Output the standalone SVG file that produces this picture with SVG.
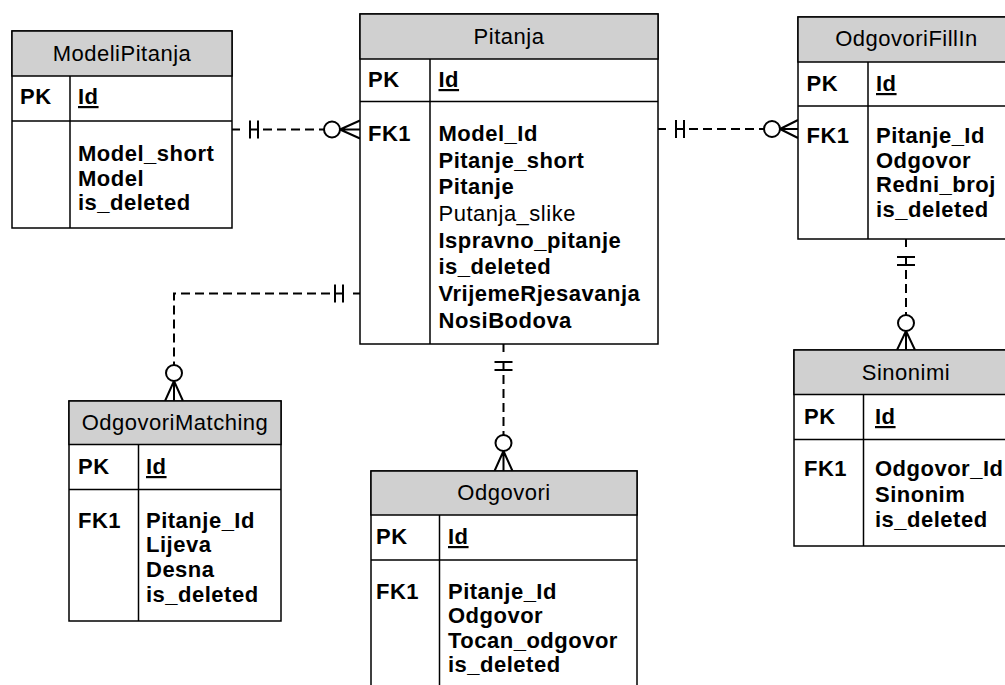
<svg xmlns="http://www.w3.org/2000/svg" width="1005" height="685" viewBox="0 0 1005 685">
<style>
  .box { fill: #ffffff; stroke: #000; stroke-width: 1.5; }
  .hdr { fill: #d0d0d0; stroke: #000; stroke-width: 1.5; }
  .ln { stroke: #000; stroke-width: 1.5; fill: none; }
  text { font-family: "Liberation Sans", Arial, sans-serif; font-size: 22px; letter-spacing: 0.5px; fill: #000; }
  .t { text-anchor: middle; font-weight: normal; }
  .b { font-weight: bold; }
  .u { font-weight: bold; text-decoration: underline; }
  .r { font-weight: normal; }
  .dash { stroke: #000; stroke-width: 2; fill: none; stroke-dasharray: 9 5; }
  .sol { stroke: #000; stroke-width: 2; fill: none; }
  .circ { stroke: #000; stroke-width: 2; fill: #fff; }
</style>
<rect width="1005" height="685" fill="#fff"/>

<g id="connectors">
  <g id="c-modeli-pitanja">
    <path class="sol" d="M232 129.5 H240 M250 120.5 V138.5 M258 120.5 V138.5 M250 129.5 H258"/>
    <path class="dash" d="M263 129.5 H324"/>
    <circle class="circ" cx="332" cy="129.5" r="8"/>
    <path class="sol" d="M340 129.5 L360 120.5 M340 129.5 H360 M340 129.5 L360 138.5"/>
  </g>
  <g id="c-pitanja-fillin">
    <path class="sol" d="M658 129 H666 M676 120 V138 M684 120 V138 M676 129 H684"/>
    <path class="dash" d="M689 129 H764"/>
    <circle class="circ" cx="772" cy="129" r="8"/>
    <path class="sol" d="M780 129 L798 120 M780 129 H798 M780 129 L798 138"/>
  </g>
  <g id="c-pitanja-matching">
    <path class="sol" d="M361 293.5 H353 M343 284.5 V302.5 M335 284.5 V302.5 M343 293.5 H335"/>
    <path class="dash" d="M330 293.5 H174 V365"/>
    <circle class="circ" cx="174" cy="373" r="8"/>
    <path class="sol" d="M174 381 L165 401 M174 381 V401 M174 381 L183 401"/>
  </g>
  <g id="c-pitanja-odgovori">
    <path class="sol" d="M503.5 344 V352 M494.5 362 H512.5 M494.5 370 H512.5 M503.5 362 V370"/>
    <path class="dash" d="M503.5 375 V435"/>
    <circle class="circ" cx="503.5" cy="443" r="8"/>
    <path class="sol" d="M503.5 451 L494.5 471 M503.5 451 V471 M503.5 451 L512.5 471"/>
  </g>
  <g id="c-fillin-sinonimi">
    <path class="sol" d="M906 239 V247 M897 257 H915 M897 265 H915 M906 257 V265"/>
    <path class="dash" d="M906 270 V315"/>
    <circle class="circ" cx="906" cy="323" r="8"/>
    <path class="sol" d="M906 331 L897 350 M906 331 V350 M906 331 L915 350"/>
  </g>
</g>

<g id="ModeliPitanja">
  <rect class="box" x="12" y="31" width="220" height="197"/>
  <rect class="hdr" x="12" y="31" width="220" height="45"/>
  <line class="ln" x1="12" y1="121" x2="232" y2="121"/>
  <line class="ln" x1="70" y1="76" x2="70" y2="228"/>
  <text class="t" x="122" y="61">ModeliPitanja</text>
  <text class="b" x="20" y="104">PK</text>
  <text class="u" x="78" y="104">Id</text>
  <text class="b" x="78" y="161">Model_short</text>
  <text class="b" x="78" y="185.5">Model</text>
  <text class="b" x="78" y="210">is_deleted</text>
</g>

<g id="Pitanja">
  <rect class="box" x="360" y="14" width="298" height="330"/>
  <rect class="hdr" x="360" y="14" width="298" height="45"/>
  <line class="ln" x1="360" y1="101.5" x2="658" y2="101.5"/>
  <line class="ln" x1="430" y1="59" x2="430" y2="344"/>
  <text class="t" x="509" y="44">Pitanja</text>
  <text class="b" x="368" y="87">PK</text>
  <text class="u" x="438.5" y="87">Id</text>
  <text class="b" x="368" y="141">FK1</text>
  <text class="b" x="438.5" y="141">Model_Id</text>
  <text class="b" x="438.5" y="167.5">Pitanje_short</text>
  <text class="b" x="438.5" y="194">Pitanje</text>
  <text class="r" x="438.5" y="221">Putanja_slike</text>
  <text class="b" x="438.5" y="247.5">Ispravno_pitanje</text>
  <text class="b" x="438.5" y="274">is_deleted</text>
  <text class="b" x="438.5" y="301">VrijemeRjesavanja</text>
  <text class="b" x="438.5" y="327.5">NosiBodova</text>
</g>

<g id="OdgovoriFillIn">
  <rect class="box" x="798" y="17" width="217" height="222"/>
  <rect class="hdr" x="798" y="17" width="217" height="45"/>
  <line class="ln" x1="798" y1="106" x2="1015" y2="106"/>
  <line class="ln" x1="868" y1="62" x2="868" y2="239"/>
  <text class="t" x="906.5" y="46">OdgovoriFillIn</text>
  <text class="b" x="806.5" y="91">PK</text>
  <text class="u" x="876" y="91">Id</text>
  <text class="b" x="806.5" y="143">FK1</text>
  <text class="b" x="876" y="143">Pitanje_Id</text>
  <text class="b" x="876" y="167.5">Odgovor</text>
  <text class="b" x="876" y="192">Redni_broj</text>
  <text class="b" x="876" y="216.5">is_deleted</text>
</g>

<g id="OdgovoriMatching">
  <rect class="box" x="69" y="401" width="212" height="220"/>
  <rect class="hdr" x="69" y="401" width="212" height="43.5"/>
  <line class="ln" x1="69" y1="489.5" x2="281" y2="489.5"/>
  <line class="ln" x1="138.5" y1="444.5" x2="138.5" y2="621"/>
  <text class="t" x="175" y="430">OdgovoriMatching</text>
  <text class="b" x="78" y="474">PK</text>
  <text class="u" x="146" y="474">Id</text>
  <text class="b" x="78" y="527.5">FK1</text>
  <text class="b" x="146" y="527.5">Pitanje_Id</text>
  <text class="b" x="146" y="552">Lijeva</text>
  <text class="b" x="146" y="577">Desna</text>
  <text class="b" x="146" y="601.5">is_deleted</text>
</g>

<g id="Odgovori">
  <rect class="box" x="371" y="471" width="266" height="240"/>
  <rect class="hdr" x="371" y="471" width="266" height="44"/>
  <line class="ln" x1="371" y1="560" x2="637" y2="560"/>
  <line class="ln" x1="439.5" y1="515" x2="439.5" y2="711"/>
  <text class="t" x="504" y="500">Odgovori</text>
  <text class="b" x="376" y="544">PK</text>
  <text class="u" x="448" y="544">Id</text>
  <text class="b" x="376" y="598.5">FK1</text>
  <text class="b" x="448" y="598.5">Pitanje_Id</text>
  <text class="b" x="448" y="623">Odgovor</text>
  <text class="b" x="448" y="647.5">Tocan_odgovor</text>
  <text class="b" x="448" y="672">is_deleted</text>
</g>

<g id="Sinonimi">
  <rect class="box" x="794" y="350" width="224" height="196"/>
  <rect class="hdr" x="794" y="350" width="224" height="44.5"/>
  <line class="ln" x1="794" y1="439.5" x2="1018" y2="439.5"/>
  <line class="ln" x1="863.5" y1="394.5" x2="863.5" y2="546"/>
  <text class="t" x="906" y="380">Sinonimi</text>
  <text class="b" x="804" y="424">PK</text>
  <text class="u" x="875" y="424">Id</text>
  <text class="b" x="804" y="476">FK1</text>
  <text class="b" x="875" y="476">Odgovor_Id</text>
  <text class="b" x="875" y="501.5">Sinonim</text>
  <text class="b" x="875" y="527">is_deleted</text>
</g>
</svg>
